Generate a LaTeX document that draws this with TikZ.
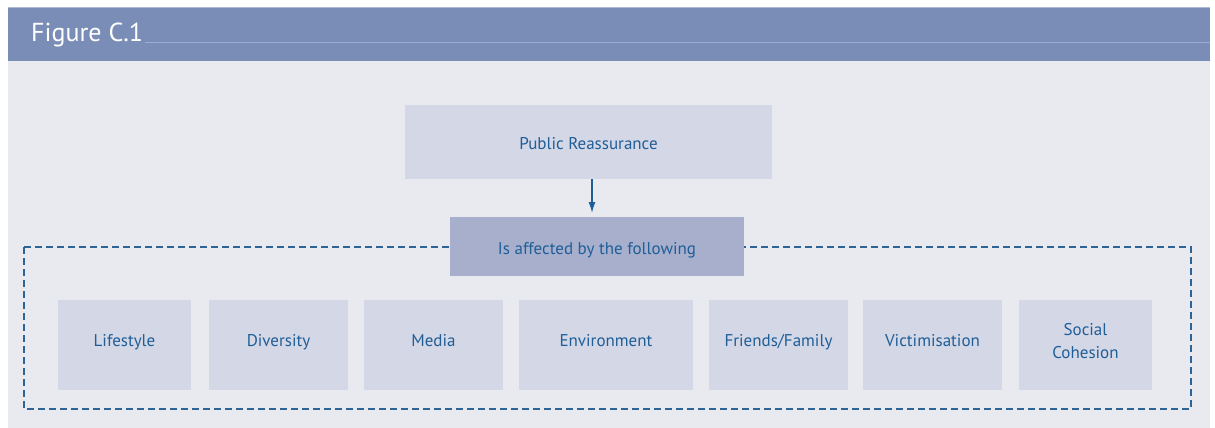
\documentclass[tikz,border=0pt]{standalone}
\usepackage{fontspec}
\setmainfont{PT Sans}
\usetikzlibrary{arrows.meta}
\definecolor{hdr}{HTML}{7A8DB6}
\definecolor{hdrline}{HTML}{9DADCD}
\definecolor{hdrtop}{HTML}{AEBAD6}
\definecolor{panel}{HTML}{E9EAF0}
\definecolor{boxfill}{HTML}{D4D7E6}
\definecolor{darkbox}{HTML}{A7AFCD}
\definecolor{txt}{HTML}{1F5E97}
\definecolor{dash}{HTML}{2D6497}
\tikzset{
  lbl/.style={text=txt, font=\fontsize{17}{23}\selectfont, align=center, inner sep=0pt},
  factor/.style={lbl, fill=boxfill, draw=none, minimum height=90pt, text height=7pt, text depth=4.5pt},
  factorml/.style={fill=boxfill, draw=none, minimum height=90pt, inner sep=0pt},
  topbox/.style={lbl, fill=boxfill, draw=none, text height=18.5pt, text depth=3pt},
  midbox/.style={lbl, fill=darkbox, draw=none, text height=18pt, text depth=3pt},
  dashframe/.style={draw=dash, line width=1.1pt, dash pattern=on 7pt off 4pt},
  link/.style={draw=txt, line width=1.4pt, -{Latex[length=11pt,width=7pt]}}
}
\begin{document}
\begin{tikzpicture}[x=1pt,y=-1pt]
\useasboundingbox (0,0) rectangle (1215,428);
\fill[white] (0,0) rectangle (1215,428);
% panel
\fill[panel] (8,60) rectangle (1210,428);
% header
\fill[hdr] (8,7) rectangle (1210,61);
\draw[hdrtop, line width=1pt] (8,7.5) -- (1210,7.5);
\draw[hdrline, line width=0.8pt] (145,42) -- (1210,42);
\node[anchor=base west, text=white, font=\fontsize{26}{28}\selectfont, inner sep=0pt] (title) at (31,42) {Figure C.1};
% dashed frame
\draw[dashframe] (24,247) rectangle (1191,409);
% top boxes
\node[topbox, minimum width=367pt, minimum height=74pt] (pr) at (588.5,142) {Public Reassurance};
\node[midbox, minimum width=294pt, minimum height=59pt] (aff) at (597,246.5) {Is affected by the following};
\draw[link] (pr.south -| 592,0) -- (592,213);
% factors
\node[factor, minimum width=133pt] (f1) at (124.5,345) {Lifestyle};
\node[factor, minimum width=139pt] (f2) at (278.5,345) {Diversity};
\node[factor, minimum width=139pt] (f3) at (433.5,345) {Media};
\node[factor, minimum width=174pt] (f4) at (606,345) {Environment};
\node[factor, minimum width=139pt] (f5) at (778.5,345) {Friends/Family};
\node[factor, minimum width=139pt] (f6) at (932.5,345) {Victimisation};
\node[factorml, minimum width=133pt, label={[lbl, name=f7text, yshift=4pt]center:{Social\\Cohesion}}] (f7) at (1085.5,345) {};
\end{tikzpicture}
\end{document}
